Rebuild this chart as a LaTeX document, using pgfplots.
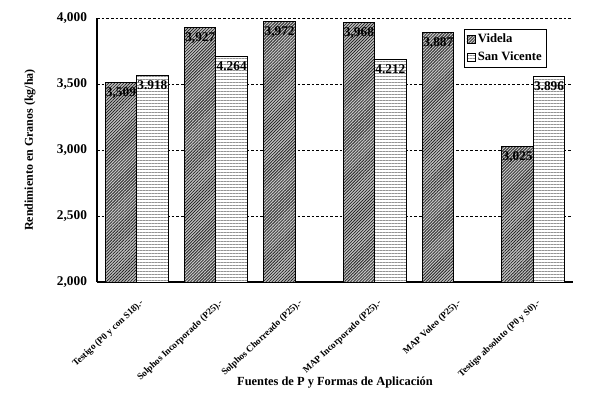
\documentclass[border=0pt]{standalone}
\usepackage{fontspec}
\setmainfont{Liberation Serif}
\usepackage{pgfplots}
\usepackage{pgfplotstable}
\pgfplotsset{compat=1.18}
\usetikzlibrary{patterns.meta}

\pgfplotstableread{
x y lab
0 3509 3,509
1 3927 3,927
2 3972 3,972
3 3968 3,968
4 3887 3,887
5 3025 3,025
}\videla

\pgfplotstableread{
x y lab
0 3566 3.918
1 3707 4.264
3 3687 4.212
5 3555 3.896
}\sanvicente

\begin{document}
\begin{tikzpicture}
\path[use as bounding box] (0,0) rectangle (450pt,297.75pt);
\begin{axis}[
  at={(72.75pt,86.25pt)}, anchor=south west,
  scale only axis, width=357pt, height=198pt,
  xmin=-0.5, xmax=5.5, ymin=2000, ymax=4000,
  ybar=0pt, bar width=23.6pt,
  xtick={0,1,2,3,4,5},
  xticklabels={Testigo (P0 y con S18).-, Solphos Incorporado (P25).-, Solphos Chorreado (P25).-, MAP Incorporado (P25).-, MAP Voleo (P25).-, Testigo absoluto (P0 y S0).-},
  xticklabel style={font=\bfseries\fontsize{7}{8}\selectfont, inner sep=1pt, xshift=5pt, yshift=-10pt, rotate=43, anchor=east},
  ytick={2000,2500,3000,3500,4000},
  yticklabel style={font=\bfseries\fontsize{10}{12}\selectfont, xshift=-4pt},
  /pgf/number format/.cd, 1000 sep={,}, assume math mode=true, /pgfplots/.cd,
  ymajorgrids,
  grid style={black, dash pattern=on 2pt off 1.5pt, line width=0.5pt},
  axis x line*=bottom, axis y line*=left,
  axis line style={black, line width=0.8pt},
  tick style={draw=none},
  xlabel={Fuentes de P y Formas de Aplicación},
  ylabel={Rendimiento en Granos (kg/ha)},
  xlabel style={at={(axis description cs:0.5,-0.3826)}, anchor=center, font=\bfseries\fontsize{9.3}{11}\selectfont},
  ylabel style={at={(axis description cs:-0.1408,0.5)}, anchor=center, font=\bfseries\fontsize{9}{11}\selectfont},
  nodes near coords, point meta=explicit symbolic,
  every node near coord/.append style={anchor=north, font=\bfseries\fontsize{10}{12}\selectfont, text=black},
  legend style={at={(0.945,0.958)}, anchor=north east, draw=black, line width=0.6pt,
    font=\bfseries\fontsize{9.5}{11}\selectfont, inner sep=1.5pt, row sep=1pt,
    /tikz/every even column/.append style={column sep=0pt}},
  legend cell align=left,
  legend image code/.code={\draw[#1, line width=0.5pt] (0pt,-3pt) rectangle (6pt,3pt);},
]
\addplot[draw=black, line width=0.75pt, fill=gray!45, postaction={pattern={Lines[angle=45,distance=1.6pt,line width=0.6pt]}, pattern color=black!85}]
  table[x=x, y=y, meta=lab] {\videla};
\addlegendentry{Videla}
\addplot[draw=black, line width=0.75pt, fill=white, postaction={pattern={Lines[angle=0,distance=2.25pt,line width=0.6pt]}, pattern color=gray!85}]
  table[x=x, y=y, meta=lab] {\sanvicente};
\addlegendentry{San Vicente}
\draw[gray!70, line width=0.6pt] (rel axis cs:1,0) -- (rel axis cs:1,1);
\end{axis}
\end{tikzpicture}
\end{document}
